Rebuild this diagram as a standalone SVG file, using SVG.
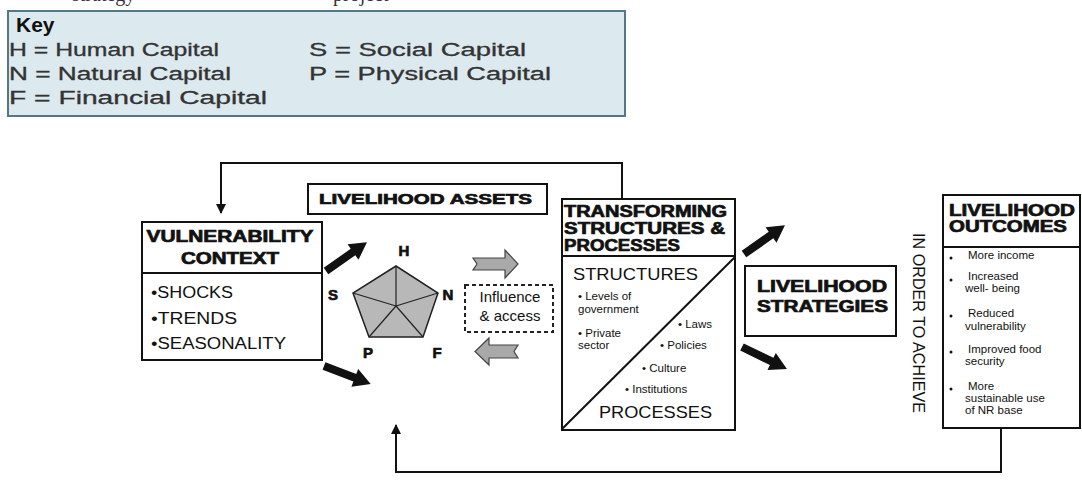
<svg xmlns="http://www.w3.org/2000/svg" width="1082" height="485" viewBox="0 0 1082 485">
<style>
.t{font-family:"Liberation Sans",Arial,sans-serif;fill:#111}
.h{font-weight:bold;stroke:#111;stroke-width:0.7}
.k{font-family:"Liberation Sans",Arial,sans-serif;fill:#333;font-size:18px;stroke:#333;stroke-width:0.3}
.box{fill:#fff;stroke:#111;stroke-width:2}
.ln{fill:none;stroke:#111;stroke-width:2}
.s{font-size:11.5px}
.o{font-size:11.5px}
</style>
<defs>
<marker id="ah" markerWidth="10" markerHeight="10" refX="9" refY="5" orient="auto" markerUnits="userSpaceOnUse">
<path d="M0,0 L10,5 L0,10 Z" fill="#111"/>
</marker>
<polygon id="bk" points="0,-4 33,-4 33,-9.5 50,0 33,9.5 33,4 0,4" fill="#111"/>
</defs>
<rect width="1082" height="485" fill="#fff"/>

<g id="topfragments">
<text x="72" y="1" font-family="Liberation Serif,serif" font-size="20" fill="#333">strategy</text>
<text x="333" y="1" font-family="Liberation Serif,serif" font-size="20" fill="#333">project</text>
</g>

<g id="key">
<rect x="8" y="11" width="617" height="105" fill="#dce9ee" stroke="#557888" stroke-width="2"/>
<text x="16" y="32" class="t" font-size="21" font-weight="bold" fill="#222">Key</text>
<text x="9" y="56" class="k" textLength="210" lengthAdjust="spacingAndGlyphs">H = Human Capital</text>
<text x="309" y="56" class="k" textLength="217" lengthAdjust="spacingAndGlyphs">S = Social Capital</text>
<text x="9" y="80" class="k" textLength="222" lengthAdjust="spacingAndGlyphs">N = Natural Capital</text>
<text x="309" y="80" class="k" textLength="242" lengthAdjust="spacingAndGlyphs">P = Physical Capital</text>
<text x="9" y="104" class="k" textLength="258" lengthAdjust="spacingAndGlyphs">F = Financial Capital</text>
</g>

<g id="connectors">
<polyline class="ln" points="622,199 622,163 221,163 221,213" marker-end="url(#ah)"/>
<polyline class="ln" points="1001,428 1001,472 396,472 396,425" marker-end="url(#ah)"/>
<use href="#bk" transform="translate(326,271) rotate(-35)"/>
<use href="#bk" transform="translate(324,366) rotate(21)"/>
<use href="#bk" transform="translate(744,254) rotate(-35)"/>
<use href="#bk" transform="translate(742,347) rotate(26)"/>
<polygon points="473,258 505,258 505,250 518,264 505,278 505,270 473,270 477,264" fill="#a9a9a9" stroke="#444" stroke-width="1.2"/>
<polygon points="518,345 489,345 489,338 475,351.5 489,365 489,358 518,358 514,351.5" fill="#a9a9a9" stroke="#444" stroke-width="1.2"/>
</g>

<g id="vulnerability">
<rect class="box" x="142" y="222" width="180" height="138"/>
<line class="ln" x1="142" y1="273" x2="322" y2="273"/>
<text class="t h" x="230" y="242" font-size="16" text-anchor="middle" textLength="167" lengthAdjust="spacingAndGlyphs">VULNERABILITY</text>
<text class="t h" x="230" y="264" font-size="16" text-anchor="middle" textLength="98" lengthAdjust="spacingAndGlyphs">CONTEXT</text>
<text class="t" x="151" y="298" font-size="16" textLength="82" lengthAdjust="spacingAndGlyphs">•SHOCKS</text>
<text class="t" x="151" y="324" font-size="16" textLength="86" lengthAdjust="spacingAndGlyphs">•TRENDS</text>
<text class="t" x="151" y="349" font-size="16" textLength="135" lengthAdjust="spacingAndGlyphs">•SEASONALITY</text>
</g>

<g id="assets">
<rect class="box" x="308" y="184" width="239" height="30"/>
<text class="t h" x="319" y="204" font-size="15" textLength="213" lengthAdjust="spacingAndGlyphs">LIVELIHOOD ASSETS</text>
<polygon points="396,266 438,293 423,337 369,337 353,293" fill="#b8b8b8" stroke="#222" stroke-width="1.5"/>
<g stroke="#222" stroke-width="1.2">
<line x1="396" y1="306" x2="396" y2="266"/>
<line x1="396" y1="306" x2="438" y2="293"/>
<line x1="396" y1="306" x2="423" y2="337"/>
<line x1="396" y1="306" x2="369" y2="337"/>
<line x1="396" y1="306" x2="353" y2="293"/>
</g>
<text class="t h" x="404" y="256" font-size="15" text-anchor="middle">H</text>
<text class="t h" x="333" y="300" font-size="15" text-anchor="middle">S</text>
<text class="t h" x="448" y="300" font-size="15" text-anchor="middle">N</text>
<text class="t h" x="368" y="358" font-size="15" text-anchor="middle">P</text>
<text class="t h" x="437" y="358" font-size="15" text-anchor="middle">F</text>
</g>

<g id="influence">
<rect x="465" y="285" width="88" height="47" fill="#fff" stroke="#222" stroke-width="2" stroke-dasharray="4 3"/>
<text class="t" x="510" y="302" font-size="15" text-anchor="middle">Influence</text>
<text class="t" x="510" y="321" font-size="15" text-anchor="middle">&amp; access</text>
</g>

<g id="transforming">
<rect class="box" x="562" y="199" width="173" height="231"/>
<line class="ln" x1="562" y1="256" x2="735" y2="256"/>
<line class="ln" x1="562" y1="429" x2="735" y2="257" stroke-width="1.5"/>
<text class="t h" x="564" y="217" font-size="16" textLength="163" lengthAdjust="spacingAndGlyphs">TRANSFORMING</text>
<text class="t h" x="564" y="234" font-size="16" textLength="161" lengthAdjust="spacingAndGlyphs">STRUCTURES &amp;</text>
<text class="t h" x="564" y="251" font-size="16" textLength="116" lengthAdjust="spacingAndGlyphs">PROCESSES</text>
<text class="t" x="573" y="280" font-size="17" textLength="125" lengthAdjust="spacingAndGlyphs">STRUCTURES</text>
<text class="t s" x="578" y="300">• Levels of</text>
<text class="t s" x="578" y="313">government</text>
<text class="t s" x="578" y="337">• Private</text>
<text class="t s" x="578" y="349">sector</text>
<text class="t s" x="678" y="328">• Laws</text>
<text class="t s" x="660" y="349">• Policies</text>
<text class="t s" x="642" y="372">• Culture</text>
<text class="t s" x="625" y="393">• Institutions</text>
<text class="t" x="599" y="418" font-size="17" textLength="113" lengthAdjust="spacingAndGlyphs">PROCESSES</text>
</g>

<g id="strategies">
<rect class="box" x="745" y="266" width="151" height="70"/>
<text class="t h" x="757" y="292" font-size="16" textLength="130" lengthAdjust="spacingAndGlyphs">LIVELIHOOD</text>
<text class="t h" x="757" y="312" font-size="16" textLength="131" lengthAdjust="spacingAndGlyphs">STRATEGIES</text>
</g>

<g id="inorder">
<text class="t" transform="translate(913,323) rotate(90)" x="0" y="0" font-size="16" text-anchor="middle" textLength="180" lengthAdjust="spacingAndGlyphs">IN ORDER TO ACHIEVE</text>
</g>

<g id="outcomes">
<rect class="box" x="943" y="195" width="137" height="233"/>
<line class="ln" x1="943" y1="247" x2="1080" y2="247"/>
<text class="t h" x="949" y="216" font-size="16" textLength="126" lengthAdjust="spacingAndGlyphs">LIVELIHOOD</text>
<text class="t h" x="949" y="232" font-size="16" textLength="118" lengthAdjust="spacingAndGlyphs">OUTCOMES</text>
<g fill="#111">
<circle cx="951" cy="258" r="1.5"/>
<circle cx="951" cy="280" r="1.5"/>
<circle cx="951" cy="316" r="1.5"/>
<circle cx="951" cy="352" r="1.5"/>
<circle cx="951" cy="389" r="1.5"/>
</g>
<text class="t o" x="968" y="259">More income</text>
<text class="t o" x="968" y="280">Increased</text>
<text class="t o" x="965" y="292">well- being</text>
<text class="t o" x="968" y="317">Reduced</text>
<text class="t o" x="965" y="330">vulnerability</text>
<text class="t o" x="968" y="353">Improved food</text>
<text class="t o" x="965" y="365">security</text>
<text class="t o" x="968" y="390">More</text>
<text class="t o" x="965" y="402">sustainable use</text>
<text class="t o" x="965" y="414">of NR base</text>
</g>
</svg>
